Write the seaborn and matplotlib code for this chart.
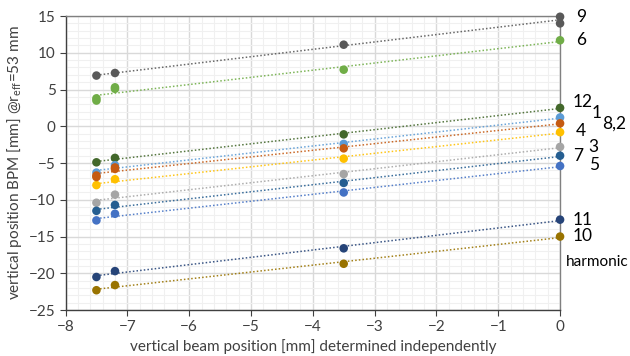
import numpy as np
import pandas as pd
import matplotlib
matplotlib.use("Agg")
import matplotlib.pyplot as plt
import seaborn as sns
from matplotlib.ticker import MultipleLocator

# beam positions (x) and BPM readings per harmonic
x_pos = [-7.5, -7.2, -3.5, 0.0]
harmonics = ["9", "6", "12", "1", "8,2", "4", "3", "7", "5", "11", "10"]
h9 = [6.9, 7.25, 11.1, 14.9]
h6 = [3.5, 5.1, 7.7, 11.7]
h12 = [-4.9, -4.3, -1.1, 2.5]
h1 = [-6.3, -5.3, -2.4, 1.2]
h82 = [-6.7, -5.8, -3.0, 0.4]
h4 = [-8.0, -7.2, -4.4, -0.8]
h3 = [-10.4, -9.3, -6.5, -2.8]
h7 = [-11.5, -10.7, -7.7, -4.0]
h5 = [-12.8, -11.9, -9.0, -5.4]
h11 = [-20.5, -19.7, -16.6, -12.7]
h10 = [-22.3, -21.6, -18.7, -15.0]
# extra repeat measurements visible in the chart
extra_x = [0.0, -7.5, -7.2, -7.5, -7.2]
extra_y = [14.0, 3.8, 5.3, -6.9, -5.6]
extra_h = ["9", "6", "6", "8,2", "8,2"]

values = [h9, h6, h12, h1, h82, h4, h3, h7, h5, h11, h10]
colors = ["#595959", "#70AD47", "#43682B", "#5B9BD5", "#C55A11", "#FFC000",
          "#A5A5A5", "#255E91", "#4472C4", "#264478", "#997300"]
palette = dict(zip(harmonics, colors))

rows = []
for h, vals in zip(harmonics, values):
    for xv, yv in zip(x_pos, vals):
        rows.append((h, xv, yv))
for xv, yv, h in zip(extra_x, extra_y, extra_h):
    rows.append((h, xv, yv))
df = pd.DataFrame(rows, columns=["harmonic", "x", "y"])

sns.set_style("white")
plt.rcParams["font.family"] = ["Lato", "DejaVu Sans"]

fig = plt.figure(figsize=(6.3, 3.56), dpi=100)
ax = fig.add_axes([0.104, 0.129, 0.785, 0.826])

for h in harmonics:
    sub = df[df.harmonic == h]
    sns.regplot(data=sub, x="x", y="y", ax=ax, scatter=False, ci=None,
                color=palette[h],
                line_kws=dict(ls=(0, (1, 1.4)), lw=1.1, alpha=0.9))

sns.scatterplot(data=df, x="x", y="y", hue="harmonic", palette=palette,
                s=38, edgecolor="none", legend=False, ax=ax, zorder=5,
                clip_on=False)

ax.set_xlim(-8, 0)
ax.set_ylim(-25, 15)
ax.xaxis.set_major_locator(MultipleLocator(1))
ax.xaxis.set_minor_locator(MultipleLocator(0.2))
ax.yaxis.set_major_locator(MultipleLocator(5))
ax.yaxis.set_minor_locator(MultipleLocator(1))
ax.grid(which="major", color="#D9D9D9", lw=1.0)
ax.grid(which="minor", color="#F0F0F0", lw=0.8)
ax.set_axisbelow(True)
for s in ["left", "bottom"]:
    ax.spines[s].set_color("#404040")
    ax.spines[s].set_linewidth(1.0)
for s in ["top", "right"]:
    ax.spines[s].set_color("#808080")
    ax.spines[s].set_linewidth(1.0)
ax.tick_params(which="major", direction="out", length=4, width=0.8,
               color="#404040", labelsize=11, labelcolor="#404040", pad=3,
               bottom=True, left=True)
ax.tick_params(which="minor", length=0)
ax.set_xlabel("vertical beam position [mm] determined independently",
              fontsize=11, color="#404040", labelpad=4)
ax.set_ylabel(r"vertical position BPM [mm] @r$_{\mathregular{eff}}$=53 mm",
              fontsize=11, color="#404040", labelpad=4)

# right-side labels in figure pixel coordinates
labels = [("9", 576, 17), ("6", 576, 40), ("12", 573, 102), ("1", 592, 113),
          ("8,2", 602, 124), ("4", 576, 131), ("3", 588, 147), ("7", 573, 156),
          ("5", 589, 165), ("11", 573, 220), ("10", 573, 236)]
for t, px, py in labels:
    fig.text(px / 630, 1 - py / 356, t, fontsize=12.5, color="black",
             ha="left", va="center")
fig.text(566 / 630, 1 - 262 / 356, "harmonic", fontsize=11, color="black",
         ha="left", va="center")

fig.savefig("out.png", dpi=100)
